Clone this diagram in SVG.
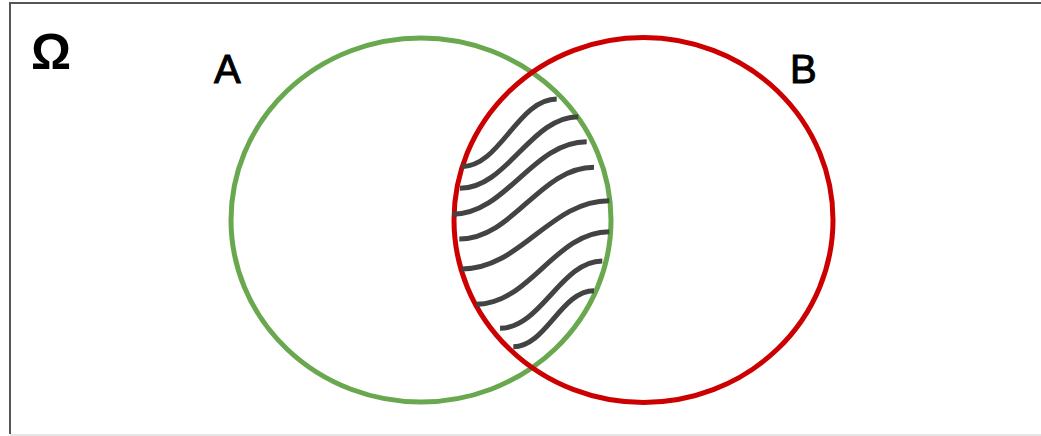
<svg xmlns="http://www.w3.org/2000/svg" width="1041" height="436" viewBox="0 0 1041 436">
<style>
.lbl{font-family:"Liberation Sans",Arial,sans-serif;fill:#000}
.ab{stroke:#000;stroke-width:1}
.set{fill:none;stroke-width:5}
.hatch path{fill:none;stroke:#434343;stroke-width:5;stroke-linecap:butt}
</style>
<rect width="1041" height="436" fill="#fff"/>
<g id="frame">
<path d="M10 434 V3 H1041" fill="none" stroke="#555" stroke-width="2"/>
<path d="M10 435 H1041" fill="none" stroke="#e6e6e6" stroke-width="2"/>
<text class="lbl" x="31" y="69" font-size="50" font-weight="bold">Ω</text>
</g>
<g id="setA">
<ellipse class="set" cx="421" cy="220" rx="190" ry="182" stroke="#6aa84f"/>
<text class="lbl ab" x="214" y="83" font-size="40">A</text>
</g>
<g id="setB">
<ellipse class="set" cx="643.5" cy="220" rx="189.5" ry="182.5" stroke="#cc0000"/>
<text class="lbl ab" x="790" y="83" font-size="40">B</text>
</g>
<g id="intersection" class="hatch">
<path d="M461.7 166.7 C500 166.7 518 99 556.7 99"/>
<path d="M460 188.3 C507 188.3 531 116.7 578.3 116.7"/>
<path d="M452.7 214.3 C506 214.3 533 141.7 586.7 141.7"/>
<path d="M459.3 239 C513 239 540 167.3 594 167.3"/>
<path d="M461.7 269 C521 269 550 200.7 609.3 200.7"/>
<path d="M476 304.3 C530 304.3 555 231.7 609.3 231.7"/>
<path d="M500 328.3 C541 328.3 561 261 602.3 261"/>
<path d="M513.3 346.7 C546 346.7 561 290.7 594 290.7"/>
</g>
</svg>
